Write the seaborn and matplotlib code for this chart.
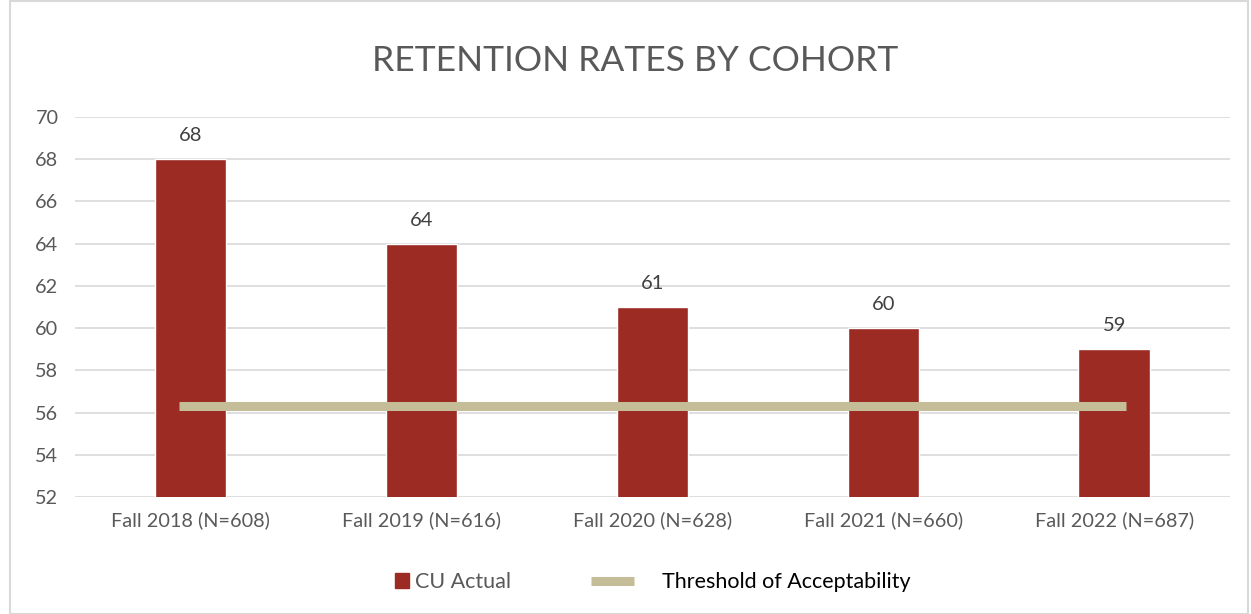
import matplotlib
matplotlib.use('Agg')
import matplotlib.pyplot as plt
import pandas as pd
import seaborn as sns
from matplotlib.lines import Line2D
from matplotlib.patches import Patch, Rectangle

# Data
cohorts = ['Fall 2018 (N=608)', 'Fall 2019 (N=616)', 'Fall 2020 (N=628)',
           'Fall 2021 (N=660)', 'Fall 2022 (N=687)']
retention = [68, 64, 61, 60, 59]
threshold = 56.3

bar_color = '#9b2b23'
line_color = '#c5bd98'
text_gray = '#595959'

sns.set_theme(style='white')
plt.rcParams['font.family'] = ['Lato', 'DejaVu Sans']

df = pd.DataFrame({'cohort': cohorts, 'rate': retention})

fig = plt.figure(figsize=(12.51, 6.14), dpi=100)
ax = fig.add_axes([0.06, 0.1906, 0.923, 0.6188])

sns.barplot(data=df, x='cohort', y='rate', color=bar_color, width=0.31,
            saturation=1, ax=ax, zorder=3)
ax.plot([-0.05, len(cohorts) - 1 + 0.05], [threshold, threshold],
        color=line_color, lw=6.5, solid_capstyle='butt', zorder=4)

ax.set_ylim(52, 70)
ax.set_yticks(range(52, 71, 2))
ax.set_xlim(-0.5, len(cohorts) - 0.5)
ax.grid(axis='y', color='#d9d9d9', lw=1.2, zorder=0)
ax.set_axisbelow(True)
for s in ax.spines.values():
    s.set_visible(False)
ax.tick_params(axis='both', length=0, labelsize=14.3, colors=text_gray)
ax.tick_params(axis='y', pad=12)
ax.tick_params(axis='x', pad=10)
ax.set_xlabel('')
ax.set_ylabel('')

for i, v in enumerate(retention):
    ax.text(i, v + 0.7, str(v), ha='center', va='bottom', fontsize=14.5,
            color='#404040')

fig.text(0.508, 0.9, 'RETENTION RATES BY COHORT', ha='center', va='center',
         fontsize=25.5, color=text_gray)

leg1 = fig.legend([Patch(color=bar_color)], ['CU Actual'], loc='center',
                  bbox_to_anchor=(0.362, 0.052), frameon=False, fontsize=15.5,
                  handlelength=0.65, handleheight=0.65, handletextpad=0.25)
leg1.get_texts()[0].set_color(text_gray)
leg2 = fig.legend([Line2D([0], [0], color=line_color, lw=6.5,
                          solid_capstyle='butt')],
                  ['Threshold of Acceptability'], loc='center',
                  bbox_to_anchor=(0.600, 0.052), frameon=False, fontsize=15.5,
                  handlelength=2.0, handletextpad=1.3)
leg2.get_texts()[0].set_color('black')
leg2.legend_handles[0].set_solid_capstyle('butt')

fig.patches.append(Rectangle((0.008, 0.0), 0.99, 0.998, transform=fig.transFigure,
                             fill=False, edgecolor='#d9d9d9', lw=1.5))

fig.savefig('out.png', dpi=100)
